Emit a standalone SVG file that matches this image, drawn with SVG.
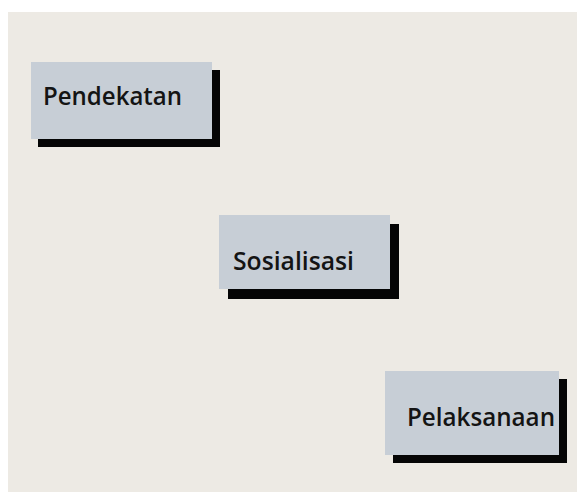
<svg xmlns="http://www.w3.org/2000/svg" width="577" height="493" viewBox="0 0 577 493">
<style>
.shadow{fill:#050505}
.box{fill:#C7CED6}
.label{font-family:"Open Sans",Lato,sans-serif;font-size:24.5px;fill:#141414;font-weight:600}
</style>
<rect x="0" y="0" width="577" height="493" fill="#FFFFFF"/>
<rect x="8" y="12" width="569" height="480" fill="#EDEAE4"/>
<g id="connectors"></g>
<g id="node-pendekatan">
<rect class="shadow" x="38" y="70" width="182" height="77"/>
<rect class="box" x="31" y="62" width="181" height="77"/>
<text class="label" x="43" y="105" textLength="139" lengthAdjust="spacingAndGlyphs">Pendekatan</text>
</g>
<g id="node-sosialisasi">
<rect class="shadow" x="228" y="224" width="171" height="75"/>
<rect class="box" x="219" y="215" width="171" height="74"/>
<text class="label" x="233" y="270" textLength="121" lengthAdjust="spacingAndGlyphs">Sosialisasi</text>
</g>
<g id="node-pelaksanaan">
<rect class="shadow" x="393" y="379" width="174" height="84"/>
<rect class="box" x="385" y="371" width="174" height="84"/>
<text class="label" x="407" y="426" textLength="148" lengthAdjust="spacingAndGlyphs">Pelaksanaan</text>
</g>
</svg>
